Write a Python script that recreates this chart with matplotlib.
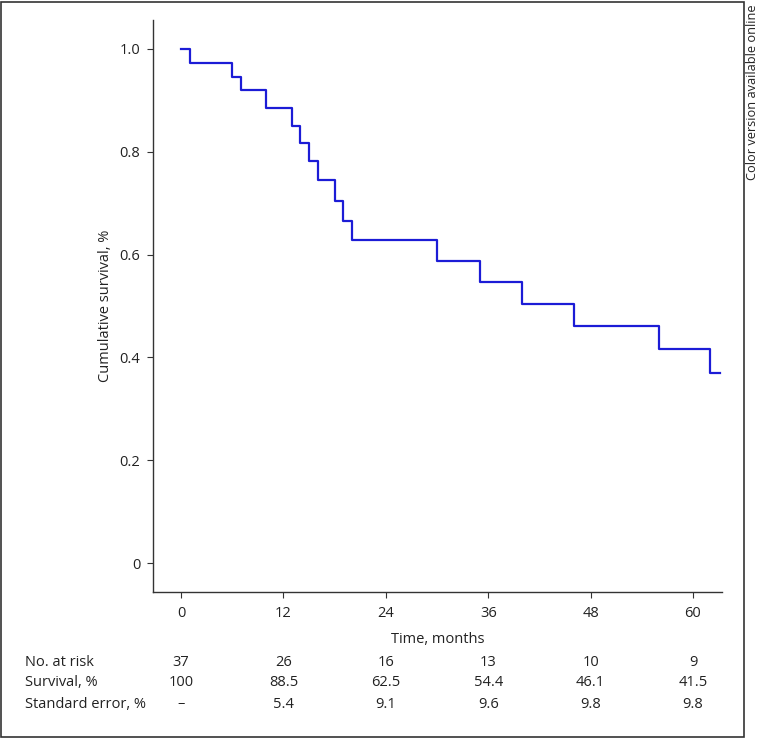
"""Kaplan-Meier curve with number-at-risk table."""

import matplotlib
matplotlib.use("Agg")
import matplotlib.pyplot as plt
import matplotlib.transforms as mtransforms
from matplotlib.patches import Rectangle

# ── Data ──────────────────────────────────────────────────────────────────────
event_times = [0, 1, 6, 7, 10, 13, 14, 15, 16, 18, 19, 20, 30, 35, 40, 46, 56, 62]
survival = [1.0, 0.973, 0.946, 0.919, 0.885, 0.850, 0.816, 0.781, 0.745,
            0.705, 0.666, 0.628, 0.588, 0.547, 0.504, 0.462, 0.417, 0.369]
follow_up_end = 63.2

table_times = [0, 12, 24, 36, 48, 60]
row_labels = ["No. at risk", "Survival, %", "Standard error, %"]
at_risk = ["37", "26", "16", "13", "10", "9"]
surv_pct = ["100", "88.5", "62.5", "54.4", "46.1", "41.5"]
std_err = ["\u2013", "5.4", "9.1", "9.6", "9.8", "9.8"]

y_ticks = [0, 0.2, 0.4, 0.6, 0.8, 1.0]
y_ticklabels = ["0", "0.2", "0.4", "0.6", "0.8", "1.0"]

plt.rcParams["font.family"] = ["Open Sans", "DejaVu Sans"]
text_color = "#222222"
spine_color = "#333333"
curve_color = "#1c1cd6"

W, H = 761, 738
fig = plt.figure(figsize=(W / 100, H / 100), dpi=100, facecolor="white")

# axes placed in pixel terms
left, right, top, bottom = 153, 722, 20, 592
ax = fig.add_axes([left / W, 1 - bottom / H, (right - left) / W, (bottom - top) / H])

xs = event_times + [follow_up_end]
ys = survival + [survival[-1]]
ax.step(xs, ys, where="post", color=curve_color, lw=1.6)

ax.set_xlim(-3.28, 63.4)
ax.set_ylim(-0.056, 1.056)
ax.set_xticks(table_times)
ax.set_xticklabels([str(t) for t in table_times])
ax.set_yticks(y_ticks)
ax.set_yticklabels(y_ticklabels)

for side in ("top", "right"):
    ax.spines[side].set_visible(False)
for side in ("left", "bottom"):
    ax.spines[side].set_color(spine_color)
    ax.spines[side].set_linewidth(1.0)

ax.tick_params(axis="both", direction="out", length=4, width=0.8,
               colors=spine_color, labelcolor=text_color, labelsize=10.5)
ax.tick_params(axis="x", pad=6)
ax.tick_params(axis="y", pad=5)

ax.set_xlabel("Time, months", fontsize=10.5, color=text_color, labelpad=8)
ax.set_ylabel("Cumulative survival, %", fontsize=10.5, color=text_color, labelpad=5)

# ── Risk table ────────────────────────────────────────────────────────────────
blend = mtransforms.blended_transform_factory(ax.transData, fig.transFigure)
row_y = [663, 683, 704]
for label, yy, vals in zip(row_labels, row_y, [at_risk, surv_pct, std_err]):
    fig.text(25 / W, 1 - yy / H, label, ha="left", va="center",
             fontsize=10.5, color=text_color)
    for t, v in zip(table_times, vals):
        fig.text(t, 1 - yy / H, v, transform=blend, ha="center", va="center",
                 fontsize=10.5, color=text_color)

# ── Frame and side note ───────────────────────────────────────────────────────
fig.patches.append(Rectangle((1.5 / W, 1.5 / H), (744 - 1.5) / W, (736.5 - 1.5) / H,
                             transform=fig.transFigure, fill=False,
                             edgecolor="#333333", lw=1.2))
fig.text(753 / W, 1 - 4 / H, "Color version available online", rotation=90,
         ha="center", va="top", fontsize=9.2, color=text_color)

fig.savefig("out.png", dpi=100)
